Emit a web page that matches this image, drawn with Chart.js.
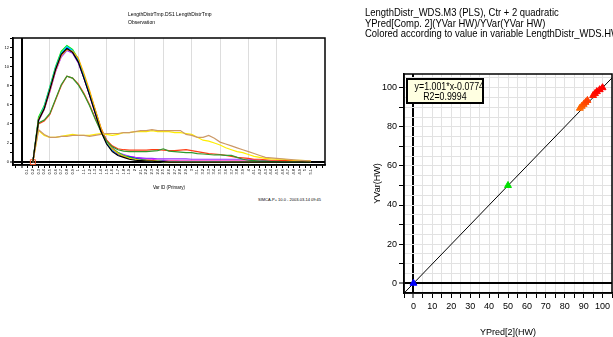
<!DOCTYPE html>
<html>
<head>
<meta charset="utf-8">
<script src="https://cdn.jsdelivr.net/npm/chart.js@4"></script>
<style>
  body { margin:0; background:#fff; width:613px; height:337px; overflow:hidden; position:relative; font-family: Arial, "Liberation Sans", sans-serif; }
  .abs { position:absolute; white-space:nowrap; color:#000; }
  canvas { position:absolute; }
  #leftTitle { left:128px; top:10px; font-size:5px; line-height:8px; }
  #leftFoot { left:258px; top:197px; font-size:4px; }
  #rightHead { left:365px; top:7px; font-size:11px; line-height:10.5px; transform:scaleX(0.86); transform-origin:0 0; }
  #fitBox { left:406px; top:78px; width:78px; height:26px; box-sizing:border-box; border:2px solid #000; background:#ffffe1;
            font-size:10.5px; line-height:10px; text-align:center; padding-top:1px; }
  #fitBox span { display:inline-block; transform:scaleX(0.84); }
</style>
</head>
<body>
<canvas id="line-chart" width="330" height="195" style="left:0;top:0"></canvas>
<canvas id="scatter-chart" width="257" height="280" style="left:360px;top:60px"></canvas>
<div class="abs" id="leftTitle">LengthDistrTmp.DS1 LengthDistrTmp<br>Observation</div>
<div class="abs" id="leftFoot">SIMCA-P+ 10.0 - 2003-03-14 09:45</div>
<div class="abs" id="rightHead">LengthDistr_WDS.M3 (PLS), Ctr + 2 quadratic<br>YPred[Comp. 2](YVar HW)/YVar(YVar HW)<br>Colored according to value in variable LengthDistr_WDS.HW</div>
<div class="abs" id="fitBox"><span>y=1.001*x-0.0774</span><br><span>R2=0.9994</span></div>
<script>
// left chart: length distribution per observation
const binLabels = ['0.1','0.2','0.3','0.4','0.5','0.6','0.7','0.8','0.9','1',
  '1.1','1.2','1.3','1.4','1.5','1.6','1.7','1.8','1.9','2',
  '2.1','2.2','2.3','2.4','2.5','2.6','2.7','2.8','2.9','3',
  '3.1','3.2','3.3','3.4','3.5','3.6','3.7','3.8','3.9','4',
  '4.1','4.2','4.3','4.4','4.5','4.6','4.7','4.8','4.9','5','5.1'];

const obsBlue = [null,0,4.5,5.7,7.7,9.8,11.3,12.0,11.6,10.6,
  8.9,7.1,5.2,3.3,2.0,1.2,0.8,0.6,0.55,0.4,
  0.3,0.2,0.15,0.1,0.1,0.05,0.05,0,0,0,
  0,0,0,0,0,0,0,0,0,0,
  0,0,0,0,0,0,0,0,0,0,0];
const obsLime = [null,0,4.7,5.9,7.9,10.0,11.6,12.2,11.8,10.8,
  9.1,7.3,5.4,3.5,2.2,1.4,1.0,0.7,0.5,0.35,
  0.25,0.2,0.15,0.1,0.05,0.05,0,0,0,0,
  0,0,0,0,0,0,0,0,0,0,
  0,0,0,0,0,0,0,0,0,0,0];
const obsMagenta = [null,0,4.4,5.6,7.5,9.6,11.2,11.9,11.5,10.5,
  8.8,7.0,5.1,3.3,2.1,1.3,0.9,0.7,0.6,0.5,
  0.4,0.3,0.3,0.2,0.2,0.15,0.15,0.1,0.1,0.1,
  0.1,0.1,0.1,0.1,0.1,0.1,0.1,0.1,0.1,0.1,
  0.1,0.05,0.05,0.05,0,0,0,0,0,0,0];
const obsPurple = [null,0,4.3,5.5,7.4,9.5,11.0,11.7,11.4,10.4,
  8.8,7.1,5.3,3.5,2.3,1.5,1.0,0.8,0.6,0.5,
  0.45,0.4,0.4,0.35,0.35,0.35,0.35,0.35,0.35,0.3,
  0.3,0.3,0.3,0.3,0.3,0.3,0.3,0.3,0.3,0.3,
  0.25,0.2,0.15,0.1,0.1,0.05,0.05,0,0,0,0];
const obsCyan = [null,0,4.5,5.8,7.8,9.9,11.4,12.1,11.7,10.7,
  9.0,7.2,5.3,3.4,2.1,1.3,0.9,0.6,0.4,0.3,
  0.2,0.15,0.1,0.1,0.05,0.05,0.05,0.05,0.05,0.05,
  0.05,0.05,0.05,0.05,0.05,0.05,0,0,0,0,
  0,0,0,0,0,0,0,0,0,0,0];
const obsPink = [null,0,4.4,5.5,7.4,9.5,11.1,11.8,11.5,10.6,
  9.0,7.3,5.5,3.6,2.3,1.4,1.0,0.7,0.5,0.4,
  0.3,0.25,0.2,0.2,0.15,0.15,0.15,0.1,0.1,0.1,
  0.1,0.1,0.1,0.1,0.1,0.1,0.1,0.1,0.1,0.1,
  0.1,0.1,0.1,0.1,0.05,0.05,0.05,0.05,0,0,0];
const obsBlack = [null,0,4.4,5.6,7.6,9.7,11.3,11.9,11.5,10.5,
  8.8,7.0,5.1,3.2,1.9,1.1,0.7,0.5,0.3,0.2,
  0.15,0.1,0.1,0.05,0.05,0,0,0,0,0,
  0,0,0,0,0,0,0,0,0,0,
  0,0,0,0,0,0,0,0,0,0,0];
const obsAmber = [null,0,4.5,5.6,7.6,9.7,11.2,11.8,11.6,10.9,
  9.3,7.5,5.5,3.6,2.2,1.4,0.9,0.6,0.4,0.3,
  0.2,0.2,0.15,0.1,0.05,0,0,0,0,0,
  0,0,0,0,0,0,0,0,0,0,
  0,0,0,0,0,0,0,0,0,0,0];
const obsRed = [null,0,4.0,4.3,5.0,6.5,8.0,9.0,8.8,8.2,
  7.2,6.0,4.6,3.3,2.3,1.7,1.4,1.3,1.25,1.25,
  1.25,1.25,1.3,1.3,1.25,1.2,1.2,1.25,1.3,1.2,
  1.1,1.0,0.9,0.85,0.8,0.7,0.6,0.5,0.45,0.4,
  0.3,0.3,0.25,0.2,0.2,0.15,0.15,0.15,0.1,0.1,0.1];
const obsGreen = [null,0,4.1,4.4,5.1,6.6,8.1,9.0,8.8,8.1,
  7.1,5.9,4.5,3.2,2.2,1.6,1.3,1.15,1.1,1.1,
  1.1,1.1,1.15,1.2,1.4,1.15,1.1,1.05,1.0,1.0,
  0.9,0.85,0.8,0.75,0.75,0.7,0.7,0.5,0.3,0.2,
  0.15,0.1,0.1,0.05,0.05,0,0,0,0,0,0];
const obsYellow = [null,0,3.3,2.8,2.6,2.6,2.7,2.8,2.9,2.8,
  2.8,2.8,2.9,3.0,2.9,2.8,2.9,3.1,3.1,3.2,
  3.2,3.2,3.3,3.2,3.2,3.2,3.1,3.1,3.0,2.9,
  2.6,2.3,2.2,2.0,1.8,1.5,1.3,1.1,1.0,0.8,
  0.6,0.5,0.4,0.35,0.3,0.3,0.25,0.2,0.2,0.15,0.1];
const obsTan = [null,0,3.4,2.9,2.6,2.6,2.7,2.7,2.8,2.8,
  2.8,2.7,2.8,2.9,3.0,3.0,3.0,3.1,3.1,3.2,
  3.3,3.3,3.4,3.3,3.3,3.3,3.3,3.3,2.9,2.8,
  2.6,2.6,2.8,2.5,2.1,1.9,1.7,1.5,1.3,1.1,
  0.9,0.7,0.5,0.45,0.4,0.35,0.3,0.25,0.2,0.15,0.1];

// right chart: observed vs predicted
const predX = [0, 50, 88, 89, 90, 91, 92, 95, 96, 97, 98.5, 100];
const obsY = [0, 50, 89.5, 90.5, 91.5, 92.5, 93.5, 96, 97, 98, 99, 100];
const pointColors = ['#0000ff','#00e000','#ff6a00','#ff6000','#ff5500','#ff4a00','#ff4000',
  '#ff1800','#ff1000','#ff0800','#ff0000','#ff0000'];
const fitLine = [{x: -5, y: -5.1}, {x: 105, y: 105}];

const boxBorder = {
  id: 'boxBorder',
  beforeDatasetsDraw(chart) {
    const {ctx, chartArea: a} = chart;
    ctx.save();
    ctx.strokeStyle = '#000';
    ctx.lineWidth = 1.5;
    ctx.strokeRect(a.left, a.top, a.right - a.left, a.bottom - a.top);
    ctx.restore();
  }
};

const pad = arr => [null, null, ...arr, null, null];
// drawn first to last
const series = [
  [obsBlack, '#000000'], [obsTan, '#cc9966'], [obsYellow, '#ffee00'], [obsGreen, '#2e9a2e'], [obsRed, '#ff3c14'],
  [obsAmber, '#ffaa00'], [obsCyan, '#00ccff'], [obsLime, '#00ee00'], [obsBlue, '#0000ff'],
  [obsPink, '#ff66aa'], [obsPurple, '#9933ff'], [obsMagenta, '#ff00ff']
];

new Chart(document.getElementById('line-chart'), {
  type: 'line',
  data: {
    labels: pad(binLabels).map(l => l === null ? '' : l),
    datasets: series.map(([d, c]) => ({
      data: pad(d),
      borderColor: c,
      backgroundColor: c,
      fill: false,
      pointStyle: 'rect',
      pointRadius: d === obsRed ? (ctx => ctx.dataIndex === 3 ? 3.5 : 0) : 0,
      pointBackgroundColor: 'rgba(0,0,0,0)',
      pointBorderColor: '#ff5a2a',
      pointBorderWidth: 1
    }))
  },
  options: {
    responsive: false,
    animation: false,
    layout: { padding: { top: 38, right: 5, left: 0, bottom: 0 } },
    plugins: { legend: { display: false }, tooltip: { enabled: false } },
    elements: { line: { borderWidth: 1.2, tension: 0 } },
    scales: {
      x: {
        offset: true,
        grid: {
          color: ctx => ctx.index === 1 ? '#000' : (ctx.index % 5 === 1 && ctx.index >= 6 && ctx.index <= 46 ? '#dddddd' : 'rgba(0,0,0,0)'),
          lineWidth: ctx => ctx.index === 1 ? 2 : 1,
          tickColor: '#000', tickLength: 3, tickWidth: 1
        },
        border: { color: '#000', width: 1.5 },
        ticks: { autoSkip: false, minRotation: 90, maxRotation: 90, font: { size: 4 }, color: '#000', padding: 1 },
        title: { display: true, text: 'Var ID (Primary)', font: { size: 4.5 }, color: '#000', padding: { top: 0, bottom: 5 } },
        afterFit: s => { s.height = 30; }
      },
      y: {
        min: -0.3, max: 13,
        ticks: { stepSize: 1, autoSkip: false, includeBounds: false, callback: v => v % 2 === 0 ? v : '', font: { size: 4 }, color: '#000', padding: 1 },
        grid: {
          color: ctx => ctx.tick && ctx.tick.value === 0 ? '#000' : 'rgba(0,0,0,0)',
          lineWidth: ctx => ctx.tick && ctx.tick.value === 0 ? 2 : 1,
          tickColor: '#000', tickLength: 3, tickWidth: 1
        },
        border: { color: '#000', width: 1.5 },
        afterFit: s => { s.width = 13; }
      }
    }
  },
  plugins: [boxBorder]
});

const tickFont = { family: 'Arial, "Liberation Sans", sans-serif', size: 9 };

new Chart(document.getElementById('scatter-chart'), {
  type: 'scatter',
  data: {
    datasets: [
      { data: fitLine, showLine: true, borderColor: '#000', borderWidth: 1, pointRadius: 0, order: 2 },
      { data: predX.map((x, i) => ({ x, y: obsY[i] })), pointStyle: 'triangle', pointRadius: 4,
        backgroundColor: pointColors, borderColor: pointColors, borderWidth: 1, order: 1 }
    ]
  },
  options: {
    responsive: false,
    animation: false,
    layout: { padding: { top: 14, right: 0, left: 0, bottom: 0 } },
    plugins: { legend: { display: false }, tooltip: { enabled: false } },
    scales: {
      x: {
        type: 'linear', min: -5, max: 105,
        ticks: { stepSize: 5, includeBounds: false, autoSkip: false, maxRotation: 0,
          callback: v => v % 10 === 0 ? v : '', font: tickFont, color: '#000', padding: 3 },
        grid: {
          color: ctx => ctx.tick && ctx.tick.value === 0 ? '#000' : '#e2e2e2',
          lineWidth: ctx => ctx.tick && ctx.tick.value === 0 ? 2 : 1,
          tickColor: '#000', tickLength: 5, tickWidth: 1
        },
        border: { color: '#000', width: 1.5 },
        title: { display: true, text: 'YPred[2](HW)', font: tickFont, color: '#000', padding: { top: 0, bottom: 2 } },
        afterFit: s => { s.height = 47; s.paddingLeft = 0; s.paddingRight = 0; }
      },
      y: {
        min: -5, max: 107,
        ticks: { stepSize: 5, autoSkip: false, includeBounds: false, callback: v => v % 20 === 0 ? v : '',
          font: tickFont, color: '#000', padding: 2 },
        grid: {
          color: ctx => ctx.tick && ctx.tick.value === 0 ? '#000' : '#e2e2e2',
          lineWidth: ctx => ctx.tick && ctx.tick.value === 0 ? 2 : 1,
          tickColor: ctx => ctx.tick && ctx.tick.value % 10 === 0 ? '#000' : 'rgba(0,0,0,0)',
          tickLength: 5, tickWidth: 1
        },
        border: { color: '#000', width: 1.5 },
        title: { display: true, text: 'YVar(HW)', font: tickFont, color: '#000', padding: { top: 12, bottom: 0 } },
        afterFit: s => { s.width = 44; s.paddingTop = 0; s.paddingBottom = 0; }
      }
    }
  },
  plugins: [boxBorder]
});
</script>
</body>
</html>
